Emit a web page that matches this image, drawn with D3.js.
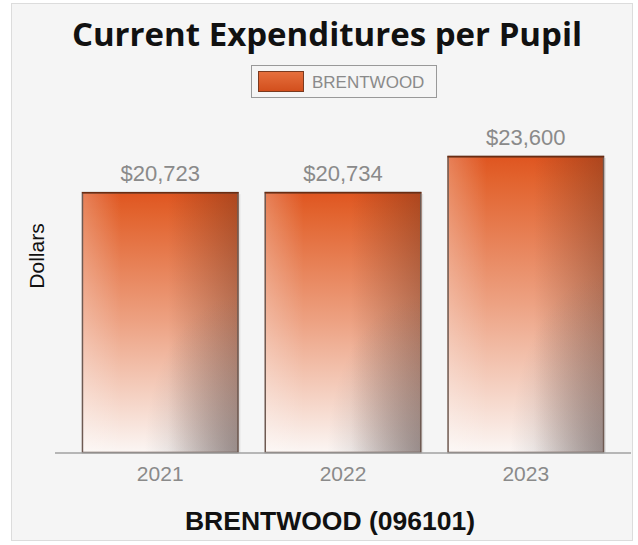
<!DOCTYPE html>
<meta charset="utf-8">
<head>
  <script src="https://cdn.jsdelivr.net/npm/d3@7"></script>
</head>
<style>
  body { margin: 0; background: #fff; font-family: "Liberation Sans", Arial, sans-serif; }
</style>
<body></body>
<script>
var years = ["2021", "2022", "2023"];
var dollars = [20723, 20734, 23600];
var seriesName = "BRENTWOOD";

var width = 638, height = 545;
var fmt = function(v) { return "$" + d3.format(",")(v); };

var svg = d3.select("body").append("svg")
    .attr("width", width)
    .attr("height", height);

var defs = svg.append("defs");
var g1 = defs.append("linearGradient").attr("id", "fillV")
    .attr("x1", 0).attr("y1", 0).attr("x2", 0).attr("y2", 1);
g1.append("stop").attr("offset", "0%").attr("stop-color", "#df5520");
g1.append("stop").attr("offset", "8%").attr("stop-color", "#e2632e");
g1.append("stop").attr("offset", "50%").attr("stop-color", "#eda283");
g1.append("stop").attr("offset", "100%").attr("stop-color", "#fbf6f4");

var g2 = defs.append("linearGradient").attr("id", "shadeH")
    .attr("x1", 0).attr("y1", 0).attr("x2", 1).attr("y2", 0);
g2.append("stop").attr("offset", "0%").attr("stop-color", "#fff").attr("stop-opacity", 0.25);
g2.append("stop").attr("offset", "25%").attr("stop-color", "#fff").attr("stop-opacity", 0);
g2.append("stop").attr("offset", "55%").attr("stop-color", "#5a2a18").attr("stop-opacity", 0);
g2.append("stop").attr("offset", "100%").attr("stop-color", "#5a2a18").attr("stop-opacity", 0.38);

var g3 = defs.append("radialGradient").attr("id", "shadeBR")
    .attr("cx", 1).attr("cy", 1).attr("r", 0.6);
g3.append("stop").attr("offset", "0%").attr("stop-color", "#6a6a70").attr("stop-opacity", 0.45);
g3.append("stop").attr("offset", "100%").attr("stop-color", "#6a6a70").attr("stop-opacity", 0);

var lg = defs.append("linearGradient").attr("id", "legFill")
    .attr("x1", 0).attr("y1", 0).attr("x2", 0).attr("y2", 1);
lg.append("stop").attr("offset", "0%").attr("stop-color", "#e6703e");
lg.append("stop").attr("offset", "100%").attr("stop-color", "#d24e1c");

// panel
svg.append("rect")
    .attr("x", 11.5).attr("y", 3.5)
    .attr("width", 621).attr("height", 537)
    .attr("fill", "#f5f5f5")
    .attr("stroke", "#dcdcdc");

svg.append("text")
    .attr("x", 327).attr("y", 46)
    .attr("text-anchor", "middle")
    .style("font-family", "'Open Sans', sans-serif")
    .style("font-weight", "bold")
    .style("font-size", "33px")
    .attr("fill", "#111")
    .text("Current Expenditures per Pupil");

// legend
var leg = svg.append("g");
leg.append("rect")
    .attr("x", 251.5).attr("y", 65.5).attr("width", 185).attr("height", 32)
    .attr("fill", "#f5f5f5").attr("stroke", "#999");
leg.append("rect")
    .attr("x", 258.5).attr("y", 71.5).attr("width", 45).attr("height", 20)
    .attr("fill", "url(#legFill)").attr("stroke", "#7a3a20");
leg.append("text")
    .attr("x", 312).attr("y", 88)
    .style("font-size", "17px")
    .attr("fill", "#8a8a8a")
    .text(seriesName);

var x = d3.scaleBand()
    .domain(years)
    .range([56, 630])
    .paddingInner(0.144)
    .paddingOuter(0.142);

var y = d3.scaleLinear()
    .domain([0, 28000])
    .range([453, 100.5]);

var bars = svg.append("g").selectAll("g")
    .data(years)
    .enter().append("g");

bars.append("rect")
    .attr("x", function(d) { return x(d) + 2; })
    .attr("y", function(d, i) { return y(dollars[i]) + 2; })
    .attr("width", x.bandwidth())
    .attr("height", function(d, i) { return y(0) - y(dollars[i]) - 2; })
    .attr("fill", "#000").attr("opacity", 0.08);

["url(#fillV)", "url(#shadeH)", "url(#shadeBR)"].forEach(function(f) {
  bars.append("rect")
      .attr("x", function(d) { return x(d); })
      .attr("y", function(d, i) { return y(dollars[i]); })
      .attr("width", x.bandwidth())
      .attr("height", function(d, i) { return y(0) - y(dollars[i]); })
      .attr("fill", f);
});

bars.append("rect")
    .attr("x", function(d) { return x(d) + 0.5; })
    .attr("y", function(d, i) { return y(dollars[i]) + 0.5; })
    .attr("width", x.bandwidth() - 1)
    .attr("height", function(d, i) { return y(0) - y(dollars[i]) - 1; })
    .attr("fill", "none")
    .attr("stroke", "#6e5a52")
    .attr("stroke-width", 1.5);

bars.append("line")
    .attr("x1", function(d) { return x(d); })
    .attr("x2", function(d) { return x(d) + x.bandwidth(); })
    .attr("y1", function(d, i) { return y(dollars[i]) + 0.75; })
    .attr("y2", function(d, i) { return y(dollars[i]) + 0.75; })
    .attr("stroke", "#6a2c12").attr("stroke-width", 1.5);

bars.append("text")
    .attr("x", function(d) { return x(d) + x.bandwidth() / 2; })
    .attr("y", function(d, i) { return y(dollars[i]) - 11; })
    .attr("text-anchor", "middle")
    .style("font-size", "22px")
    .attr("fill", "#8a8a8a")
    .text(function(d, i) { return fmt(dollars[i]); });

// x axis
var xAxis = svg.append("g")
    .attr("transform", "translate(0," + y(0) + ")")
    .call(d3.axisBottom(x).tickSize(0).tickPadding(13));
xAxis.select(".domain").remove();
xAxis.append("line")
    .attr("x1", 55).attr("x2", 631)
    .attr("stroke", "#a0a0a0").attr("stroke-width", 1.5);
xAxis.selectAll(".tick text")
    .style("font-family", "Liberation Sans, Arial, sans-serif")
    .style("font-size", "21px")
    .attr("fill", "#8a8a8a");

svg.append("text")
    .attr("x", 330).attr("y", 530)
    .attr("text-anchor", "middle")
    .style("font-weight", "bold")
    .style("font-size", "26.5px")
    .attr("fill", "#111")
    .text("BRENTWOOD (096101)");

svg.append("text")
    .attr("transform", "translate(44,256) rotate(-90)")
    .attr("text-anchor", "middle")
    .style("font-size", "21px")
    .attr("fill", "#111")
    .text("Dollars");
</script>
</html>
